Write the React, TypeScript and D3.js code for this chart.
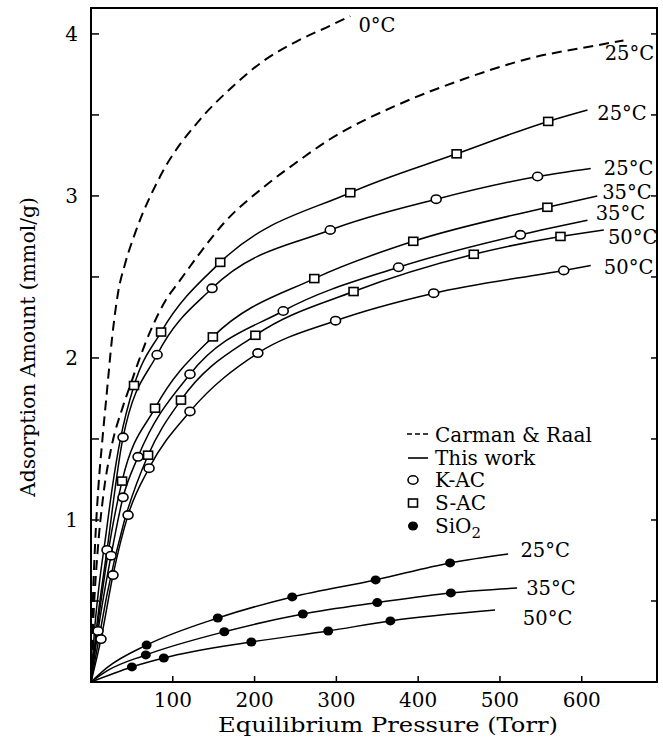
import React from "react";
import * as d3 from "d3";

type Pt = [number, number];

// ---------- Data (pressure in Torr, amount in mmol/g) ----------
// Carman & Raal (dashed)
const cr0Line: Pt[] = [[0, 0], [2, 0.45], [5, 0.85], [9, 1.2], [14, 1.5], [19.6, 1.8], [25.7, 2.12], [33, 2.4], [41.6, 2.58], [53.9, 2.77], [84.5, 3.12], [133, 3.47], [170, 3.66], [210, 3.83], [250, 3.95], [292, 4.05], [317, 4.11]];
const cr25Line: Pt[] = [[0, 0], [3, 0.4], [8, 0.8], [15, 1.15], [25, 1.45], [39, 1.7], [50, 1.86], [57.5, 1.97], [74.7, 2.19], [90.6, 2.35], [109, 2.48], [135, 2.66], [162, 2.83], [210, 3.05], [252, 3.21], [292, 3.35], [374, 3.56], [455, 3.72], [537, 3.85], [619, 3.93], [651, 3.96]];

// This work – S-AC (squares)
const sac25Marks: Pt[] = [[52.6, 1.83], [85.7, 2.16], [158, 2.59], [317, 3.02], [447, 3.26], [559, 3.46]];
const sac25Trace: Pt[] = [[0, 0], [4, 0.3], [10, 0.6], [18, 0.9], [26, 1.2], [36, 1.5], [607, 3.53]];
const sac35Marks: Pt[] = [[38, 1.24], [78.3, 1.69], [149, 2.13], [273, 2.49], [394, 2.72], [558, 2.93]];
const sac35Trace: Pt[] = [[0, 0], [5, 0.22], [15, 0.6], [25, 0.92], [619, 3.0]];
const sac50Marks: Pt[] = [[69.8, 1.4], [110, 1.74], [201, 2.14], [321, 2.41], [468, 2.64], [574, 2.75]];
const sac50Trace: Pt[] = [[0, 0], [8, 0.22], [20, 0.55], [40, 0.98], [627, 2.79]];

// This work – K-AC (open circles)
const kac25Marks: Pt[] = [[19.6, 0.815], [39.2, 1.51], [80.8, 2.02], [148, 2.43], [292.5, 2.79], [422, 2.98], [546, 3.12]];
const kac25Trace: Pt[] = [[0, 0], [6, 0.3], [611, 3.17]];
const kac35Marks: Pt[] = [[8.6, 0.315], [24.5, 0.78], [39.2, 1.14], [57.5, 1.39], [121, 1.9], [235, 2.29], [376, 2.56], [525, 2.76]];
const kac35Trace: Pt[] = [[0, 0], [607, 2.85]];
const kac50Marks: Pt[] = [[12.2, 0.265], [26.9, 0.66], [45.3, 1.03], [71, 1.32], [121, 1.67], [204, 2.03], [299, 2.23], [419, 2.4], [578, 2.54]];
const kac50Trace: Pt[] = [[0, 0], [611, 2.57]];

// This work – SiO2 (filled dots)
const sio25Marks: Pt[] = [[68, 0.228], [155, 0.395], [246, 0.525], [348, 0.63], [439, 0.735]];
const sio25Trace: Pt[] = [[0, 0], [20, 0.09], [510, 0.79]];
const sio35Marks: Pt[] = [[67, 0.167], [163, 0.31], [259, 0.42], [350, 0.49], [440, 0.55]];
const sio35Trace: Pt[] = [[0, 0], [20, 0.07], [521, 0.58]];
const sio50Marks: Pt[] = [[50, 0.093], [89, 0.148], [196, 0.247], [290, 0.315], [366, 0.377]];
const sio50Trace: Pt[] = [[0, 0], [494, 0.444]];

// Curve labels
const curveLabels = ["0°C", "25°C", "25°C", "25°C", "35°C", "35°C", "50°C", "50°C", "25°C", "35°C", "50°C"];
const curveLabelAt: Pt[] = [[327, 4.056], [628, 3.88], [619, 3.51], [627, 3.17], [625, 3.025], [617, 2.895], [632, 2.747], [627, 2.56], [525, 0.815], [532, 0.58], [528, 0.395]];

// Axis ticks
const xTickValues = [100, 200, 300, 400, 500, 600];
const yTickValues = [0.5, 1, 1.5, 2, 2.5, 3, 3.5, 4];
const yTickLabels = [1, 2, 3, 4];

const legendLabels = ["Carman & Raal", "This work", "K-AC", "S-AC", "SiO"];

const FONT = "'DejaVu Serif', serif";

type Shape = "circle" | "square" | "dot";

export default function App() {
  const W = 663, H = 744;
  const x = d3.scaleLinear().domain([0, 692]).range([91, 657]);
  const y = d3.scaleLinear().domain([0, 4.16]).range([682, 8]);
  const line = d3.line<Pt>().x(d => x(d[0])).y(d => y(d[1])).curve(d3.curveMonotoneX);
  const merge = (a: Pt[], b: Pt[]): Pt[] => [...a, ...b].sort((p, q) => p[0] - q[0]);

  const solid: { marks: Pt[]; trace: Pt[]; shape: Shape }[] = [
    { marks: sac25Marks, trace: sac25Trace, shape: "square" },
    { marks: kac25Marks, trace: kac25Trace, shape: "circle" },
    { marks: sac35Marks, trace: sac35Trace, shape: "square" },
    { marks: kac35Marks, trace: kac35Trace, shape: "circle" },
    { marks: sac50Marks, trace: sac50Trace, shape: "square" },
    { marks: kac50Marks, trace: kac50Trace, shape: "circle" },
    { marks: sio25Marks, trace: sio25Trace, shape: "dot" },
    { marks: sio35Marks, trace: sio35Trace, shape: "dot" },
    { marks: sio50Marks, trace: sio50Trace, shape: "dot" },
  ];
  const dashed = [cr0Line, cr25Line];

  const marker = (shape: Shape, cx: number, cy: number, key: string) => {
    if (shape === "circle")
      return <ellipse key={key} cx={cx} cy={cy} rx={5} ry={4.2} fill="#fff" stroke="#000" strokeWidth={1.6} />;
    if (shape === "square")
      return <rect key={key} x={cx - 4.5} y={cy - 4} width={9} height={8} fill="#fff" stroke="#000" strokeWidth={1.6} />;
    return <ellipse key={key} cx={cx} cy={cy} rx={5} ry={4.5} fill="#000" />;
  };

  const [x0, x1] = x.range();
  const [y0, y1] = y.range();

  return (
    <svg width={W} height={H} style={{ position: "absolute", left: 0, top: 0, background: "#fff" }} fontFamily={FONT}>
      <rect width={W} height={H} fill="#fff" />
      {/* frame */}
      <path d={`M${x0},${y1}H${x1}V${y0}H${x0}Z`} fill="none" stroke="#000" strokeWidth={2} />
      {/* left ticks */}
      {yTickValues.map(v => (
        <line key={"yl" + v} x1={x0} x2={x0 + 8} y1={y(v)} y2={y(v)} stroke="#000" strokeWidth={1.5} />
      ))}
      {/* right ticks */}
      {yTickValues.map(v => (
        <line key={"yr" + v} x1={x1} x2={x1 - 6} y1={y(v)} y2={y(v)} stroke="#000" strokeWidth={1.5} />
      ))}
      {/* bottom ticks */}
      {xTickValues.map(v => (
        <line key={"xt" + v} x1={x(v)} x2={x(v)} y1={y0} y2={y0 - 6} stroke="#000" strokeWidth={1.5} />
      ))}
      {yTickLabels.map(v => (
        <text key={"ytl" + v} x={x0 - 13} y={y(v)} dy="0.36em" textAnchor="end" fontSize={20}>{v}</text>
      ))}
      {xTickValues.map(v => (
        <text key={"xtl" + v} x={x(v)} y={707} textAnchor="middle" fontSize={20}>{v}</text>
      ))}
      <text x={388} y={732} textAnchor="middle" fontSize={21} textLength={340} lengthAdjust="spacingAndGlyphs">Equilibrium Pressure (Torr)</text>
      <text transform={`translate(35,347) rotate(-90)`} textAnchor="middle" fontSize={21} textLength={300} lengthAdjust="spacingAndGlyphs">Adsorption Amount (mmol/g)</text>

      {/* dashed Carman & Raal curves */}
      {dashed.map((d, i) => (
        <path key={"cr" + i} d={line(d) || ""} fill="none" stroke="#000" strokeWidth={2} strokeDasharray="10 6" />
      ))}
      {/* solid curves */}
      {solid.map((s, i) => (
        <path key={"s" + i} d={line(merge(s.marks, s.trace)) || ""} fill="none" stroke="#000" strokeWidth={1.5} />
      ))}
      {solid.map((s, i) => s.marks.map((m, j) => marker(s.shape, x(m[0]), y(m[1]), `m${i}-${j}`)))}

      {/* curve labels */}
      {curveLabels.map((t, i) => (
        <text key={"cl" + i} x={x(curveLabelAt[i][0])} y={y(curveLabelAt[i][1])} dy="0.36em" fontSize={19.5}>{t}</text>
      ))}

      {/* legend */}
      <line x1={407} x2={431} y1={434} y2={434} stroke="#000" strokeWidth={1.5} strokeDasharray="5 3" />
      <line x1={408} x2={428} y1={458} y2={458} stroke="#000" strokeWidth={1.6} />
      {marker("circle", 413, 480, "lg1")}
      {marker("square", 413, 503, "lg2")}
      {marker("dot", 413, 526, "lg3")}
      <text x={435} y={442} fontSize={20}>{legendLabels[0]}</text>
      <text x={435} y={465} fontSize={20}>{legendLabels[1]}</text>
      <text x={435} y={487} fontSize={20}>{legendLabels[2]}</text>
      <text x={435} y={510} fontSize={20}>{legendLabels[3]}</text>
      <text x={435} y={533} fontSize={20}>{legendLabels[4]}<tspan dy={5} fontSize={15}>2</tspan></text>
    </svg>
  );
}
